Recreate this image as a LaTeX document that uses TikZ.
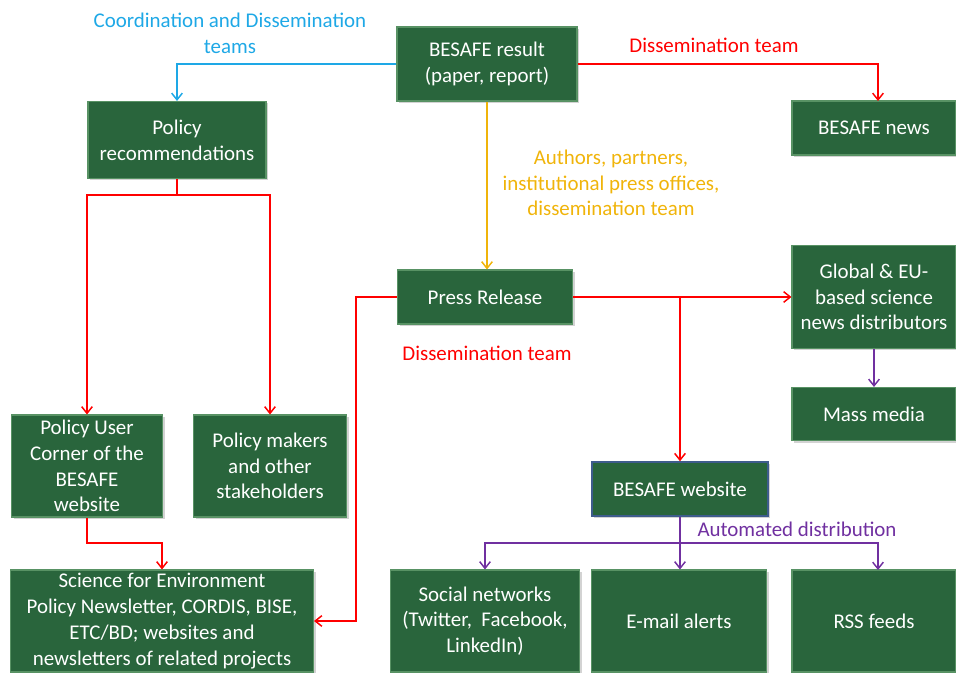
\documentclass[tikz,border=0pt]{standalone}
\usepackage{fontspec}
\setmainfont{Carlito}
\usetikzlibrary{arrows.meta,shadows}
\definecolor{boxgreen}{RGB}{41,101,60}
\definecolor{boxedge}{RGB}{88,146,100}
\definecolor{webedge}{RGB}{62,92,140}
\definecolor{teamblue}{RGB}{30,168,230}
\definecolor{teamred}{RGB}{255,0,0}
\definecolor{teamgold}{RGB}{240,180,10}
\definecolor{teampurple}{RGB}{112,48,160}
\tikzset{
  box/.style={rectangle, fill=boxgreen, draw=boxedge, line width=0.8pt, text=white,
    align=center, inner sep=2pt, drop shadow={opacity=0.35, shadow xshift=1.5pt, shadow yshift=-1.5pt},
    font=\fontsize{15.7}{19.3}\selectfont},
  webbox/.style={box, draw=webedge, line width=1.2pt},
  lbl/.style={align=center, font=\fontsize{15.7}{19.3}\selectfont},
  link/.style={line width=1.1pt, -{Straight Barb[length=5pt,width=8pt]}},
  plain/.style={line width=1.1pt}
}
\begin{document}
\begin{tikzpicture}[x=0.75pt,y=0.75pt]
\useasboundingbox (0,0) rectangle (956,-673);
% boxes
\node[box, minimum width=180*0.75pt, minimum height=74*0.75pt] (result) at (487,-64) {BESAFE result\\(paper, report)};
\node[box, minimum width=164*0.75pt, minimum height=54*0.75pt] (news) at (874,-128) {BESAFE news};
\node[box, minimum width=178*0.75pt, minimum height=77*0.75pt] (policy) at (177,-140) {Policy\\recommendations};
\node[box, minimum width=175*0.75pt, minimum height=54*0.75pt] (press) at (485,-297) {Press Release};
\node[box, minimum width=164*0.75pt, minimum height=103*0.75pt] (global) at (874,-297) {Global \& EU-\\based science\\news distributors};
\node[box, minimum width=164*0.75pt, minimum height=53*0.75pt] (mass) at (874,-414) {Mass media};
\node[webbox, minimum width=176*0.75pt, minimum height=54*0.75pt] (website) at (680,-489) {BESAFE website};
\node[box, minimum width=151*0.75pt, minimum height=102*0.75pt] (user) at (87,-466) {Policy User\\Corner of the\\BESAFE\\website};
\node[box, minimum width=153*0.75pt, minimum height=102*0.75pt] (makers) at (270,-466) {Policy makers\\and other\\stakeholders};
\node[box, minimum width=303*0.75pt, minimum height=102*0.75pt] (science) at (162,-621) {Science for Environment\\Policy Newsletter, CORDIS, BISE,\\ETC/BD; websites and\\newsletters of related projects};
\node[box, minimum width=189*0.75pt, minimum height=102*0.75pt] (social) at (485,-621) {Social networks\\(Twitter,\ \ Facebook,\\LinkedIn)};
\node[box, minimum width=175*0.75pt, minimum height=102*0.75pt] (email) at (679,-621) {E-mail alerts};
\node[box, minimum width=164*0.75pt, minimum height=102*0.75pt] (rss) at (874,-621) {RSS feeds};
% labels
\node[lbl, text=teamblue] (lcoord) at (230,-33) {Coordination and Dissemination\\teams};
\node[lbl, text=teamred] (lnews) at (714,-45) {Dissemination team};
\node[lbl, text=teamgold] (lauth) at (611,-183) {Authors, partners,\\institutional press offices,\\dissemination team};
\node[lbl, text=teamred] (lpress) at (487,-353) {Dissemination team};
\node[lbl, text=teampurple] (lauto) at (797,-529) {Automated distribution};
% split points
\coordinate (psplit) at (177,-195);
\coordinate (usplit) at (87,-543);
\coordinate (pwest) at (356,-297);
\coordinate (peast) at (680,-297);
\coordinate (wsplit) at (680,-543);
% connectors
\draw [link, teamblue] (result.west) -| (policy.north);
\draw [link, teamred] (result.east) -| (878,-101);
\draw [link, teamgold] (result.south) -- (press.north -| result.south);
\draw [plain, teamred] (policy.south) -- (psplit);
\draw [link, teamred] (psplit) -| (user.north);
\draw [link, teamred] (psplit) -| (makers.north);
\draw [link, teamred] (user.south) -- (usplit) -| (science.north);
\draw [link, teamred] (press.west) -- (pwest) |- (science.east);
\draw [link, teamred] (press.east) -- (global.west);
\draw [link, teamred] (peast) -- (website.north);
\draw [link, teampurple] (global.south) -- (mass.north);
\draw [plain, teampurple] (website.south) -- (wsplit);
\draw [link, teampurple] (wsplit) -| (social.north);
\draw [link, teampurple] (wsplit) -| (878,-570);
\draw [link, teampurple] (wsplit) -- (email.north -| wsplit);
\end{tikzpicture}
\end{document}
